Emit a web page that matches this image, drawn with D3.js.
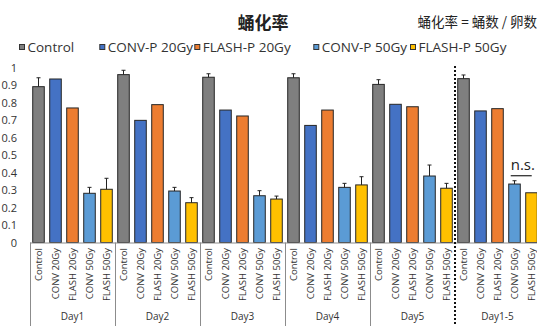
<!DOCTYPE html>
<html>
<head>
<meta charset="utf-8">
<script src="https://cdn.jsdelivr.net/npm/d3@7/dist/d3.min.js"></script>
<style>
  html, body { margin: 0; padding: 0; background: #fff; }
  svg { display: block; font-family: "Open Sans", "Noto Sans", sans-serif; }
</style>
</head>
<body>
<svg id="chart" width="537" height="326"></svg>
<script>
// Pupation rate per day and treatment
const days = ["Day1", "Day2", "Day3", "Day4", "Day5", "Day1-5"];
const seriesNames = ["Control", "CONV-P 20Gy", "FLASH-P 20Gy", "CONV-P 50Gy", "FLASH-P 50Gy"];
const axisLabels = ["Control", "CONV 20Gy", "FLASH 20Gy", "CONV 50Gy", "FLASH 50Gy"];
const colors = ["#7f7f7f", "#4472c4", "#ed7d31", "#5b9bd5", "#ffc000"];

const control   = [0.893, 0.962, 0.947, 0.944, 0.906, 0.939];
const conv20    = [0.937, 0.700, 0.759, 0.671, 0.792, 0.754];
const flash20   = [0.771, 0.790, 0.725, 0.759, 0.778, 0.767];
const conv50    = [0.282, 0.295, 0.268, 0.316, 0.381, 0.335];
const flash50   = [0.305, 0.228, 0.249, 0.330, 0.311, 0.285];

const controlErr = [0.051, 0.025, 0.020, 0.023, 0.027, 0.021];
const conv20Err  = [0, 0, 0, 0, 0, 0];
const flash20Err = [0, 0, 0, 0, 0, 0];
const conv50Err  = [0.034, 0.021, 0.029, 0.023, 0.063, 0.019];
const flash50Err = [0.063, 0.029, 0.017, 0.047, 0.028, 0];

const yTicks = [0, 0.1, 0.2, 0.3, 0.4, 0.5, 0.6, 0.7, 0.8, 0.9, 1];

const values = [control, conv20, flash20, conv50, flash50];
const errors = [controlErr, conv20Err, flash20Err, conv50Err, flash50Err];

const textColor = "#333";
const svg = d3.select("#chart");

const x0 = d3.scaleBand().domain(days).range([30, 540]).padding(0);
const x1 = d3.scaleBand().domain(d3.range(seriesNames.length))
  .range([0, x0.bandwidth()]).paddingInner(0.32).paddingOuter(0.16);
const y = d3.scaleLinear().domain([0, 1]).range([242.5, 68]);

// Title and formula note
svg.append("text").attr("x", 263).attr("y", 29).attr("text-anchor", "middle")
  .attr("font-family", "'Noto Sans CJK SC', sans-serif")
  .attr("font-weight", "bold").attr("font-size", 17).attr("fill", "#222")
  .text("蛹化率");
svg.append("text").attr("x", 537).attr("y", 27).attr("text-anchor", "end")
  .attr("font-family", "'Noto Sans CJK SC', sans-serif")
  .attr("font-size", 13.5).attr("fill", "#222")
  .text("蛹化率 = 蛹数 / 卵数");

// Legend
const legendX = [19, 99.3, 194.3, 313.3, 410];
const legend = svg.append("g");
seriesNames.forEach((name, i) => {
  const g = legend.append("g").attr("transform", `translate(${legendX[i]},47)`);
  g.append("rect").attr("x", 0.5).attr("y", -2.5).attr("width", 5).attr("height", 5)
    .attr("fill", colors[i]).attr("stroke", "#333").attr("stroke-width", 1);
  g.append("text").attr("x", 8.5).attr("y", 0).attr("dy", "0.35em")
    .attr("font-size", 13.5).attr("fill", textColor).text(name);
});

// Y axis labels (no axis line)
const yAxis = d3.axisLeft(y).tickValues(yTicks).tickSize(0).tickPadding(0)
  .tickFormat(d3.format("~g"));
const yg = svg.append("g").attr("transform", "translate(17,0)").call(yAxis);
yg.select(".domain").remove();
yg.selectAll("text").attr("font-size", 11).attr("fill", textColor)
  .attr("font-family", "'Open Sans', 'Noto Sans', sans-serif");

// Bars
const groups = svg.append("g").selectAll("g").data(days).join("g")
  .attr("transform", d => `translate(${x0(d)},0)`);

groups.each(function(day, di) {
  const g = d3.select(this);
  values.forEach((series, si) => {
    const v = series[di];
    g.append("rect")
      .attr("x", x1(si)).attr("width", x1.bandwidth())
      .attr("y", y(v)).attr("height", y(0) - y(v))
      .attr("fill", colors[si]).attr("stroke", "#262626").attr("stroke-width", 1);
    const e = errors[si][di];
    if (e > 0) {
      const cx = x1(si) + x1.bandwidth() / 2;
      g.append("line").attr("x1", cx).attr("x2", cx)
        .attr("y1", y(v)).attr("y2", y(v + e))
        .attr("stroke", "#222").attr("stroke-width", 1);
      g.append("line").attr("x1", cx - 2).attr("x2", cx + 2)
        .attr("y1", y(v + e)).attr("y2", y(v + e))
        .attr("stroke", "#222").attr("stroke-width", 1);
    }
  });
  // rotated category labels
  axisLabels.forEach((lab, si) => {
    const cx = x1(si) + x1.bandwidth() / 2;
    g.append("text")
      .attr("transform", `translate(${cx + 3.5},248) rotate(-90)`)
      .attr("text-anchor", "end").attr("font-size", 9.5).attr("fill", textColor)
      .text(lab);
  });
  g.append("text").attr("x", x0.bandwidth() / 2).attr("y", 320)
    .attr("text-anchor", "middle").attr("font-size", 10).attr("fill", textColor)
    .text(day);
});

// Baseline and category separators
svg.append("line").attr("x1", 30).attr("x2", 540).attr("y1", y(0) + 0.5).attr("y2", y(0) + 0.5)
  .attr("stroke", "#8c8c8c").attr("stroke-width", 1);
days.forEach((d, i) => {
  if (i === 5) return;
  const xx = Math.round(x0(d)) + 0.5;
  svg.append("line").attr("x1", xx).attr("x2", xx).attr("y1", y(0)).attr("y2", 326)
    .attr("stroke", "#8c8c8c").attr("stroke-width", 1);
});

// Dotted divider before the pooled group
const divX = x0("Day1-5");
svg.append("line").attr("x1", divX).attr("x2", divX).attr("y1", 66).attr("y2", 326)
  .attr("stroke", "#111").attr("stroke-width", 2).attr("stroke-dasharray", "2,2");

// Significance mark for the pooled 50Gy comparison
const nsX = x0("Day1-5") + x1(3);
const nsY = y(conv50[5] + conv50Err[5]) - 5;
svg.append("line").attr("x1", nsX + 2).attr("x2", nsX + 23).attr("y1", nsY).attr("y2", nsY)
  .attr("stroke", "#222").attr("stroke-width", 1.2);
svg.append("text").attr("x", nsX + 2).attr("y", nsY - 6)
  .attr("font-size", 15).attr("fill", "#222").text("n.s.");
</script>
</body>
</html>
